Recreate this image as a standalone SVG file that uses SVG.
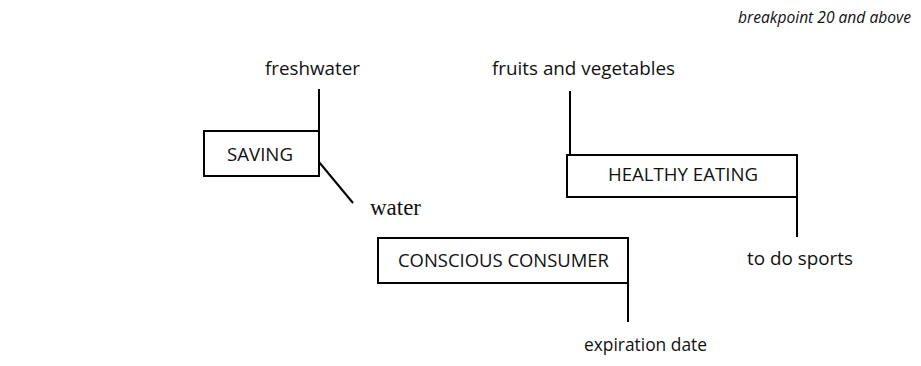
<svg xmlns="http://www.w3.org/2000/svg" width="921" height="366" viewBox="0 0 921 366">
  <style>
    .box { fill: #ffffff; stroke: #000000; stroke-width: 2; }
    .link { stroke: #000000; stroke-width: 2; fill: none; }
    .lbl { font-family: "Open Sans", "Noto Sans", sans-serif; font-size: 18.5px; fill: #111111; }
    .ser { font-family: "Liberation Serif", serif; font-size: 23px; fill: #111111; }
    .note { font-family: "Open Sans", "Noto Sans", sans-serif; font-size: 16px; font-style: italic; fill: #111111; }
  </style>
  <rect width="921" height="366" fill="#ffffff"/>

  <text class="note" x="911" y="23" text-anchor="end" textLength="173" lengthAdjust="spacingAndGlyphs">breakpoint 20 and above</text>

  <g id="connectors">
    <line class="link" x1="319" y1="89" x2="319" y2="138"/>
    <line class="link" x1="319" y1="162" x2="353" y2="203"/>
    <line class="link" x1="570" y1="91" x2="570" y2="155"/>
    <line class="link" x1="797" y1="196" x2="797" y2="237"/>
    <line class="link" x1="628" y1="283" x2="628" y2="322"/>
  </g>

  <g id="saving">
    <rect class="box" x="204" y="131" width="115" height="45"/>
    <text class="lbl" x="227" y="161" textLength="66" lengthAdjust="spacingAndGlyphs">SAVING</text>
  </g>

  <g id="healthy-eating">
    <rect class="box" x="567" y="155" width="230" height="42"/>
    <text class="lbl" x="608" y="181" textLength="150" lengthAdjust="spacingAndGlyphs">HEALTHY EATING</text>
  </g>

  <g id="conscious-consumer">
    <rect class="box" x="378" y="238" width="250" height="45"/>
    <text class="lbl" x="398" y="267" textLength="211" lengthAdjust="spacingAndGlyphs">CONSCIOUS CONSUMER</text>
  </g>

  <g id="freshwater">
    <text class="lbl" x="265" y="75" textLength="95" lengthAdjust="spacingAndGlyphs">freshwater</text>
  </g>

  <g id="water">
    <text class="ser" x="370" y="215" textLength="51" lengthAdjust="spacingAndGlyphs">water</text>
  </g>

  <g id="fruits-and-vegetables">
    <text class="lbl" x="492" y="75" textLength="183" lengthAdjust="spacingAndGlyphs">fruits and vegetables</text>
  </g>

  <g id="to-do-sports">
    <text class="lbl" x="747" y="265" textLength="106" lengthAdjust="spacingAndGlyphs">to do sports</text>
  </g>

  <g id="expiration-date">
    <text class="lbl" x="584" y="351" textLength="123" lengthAdjust="spacingAndGlyphs">expiration date</text>
  </g>
</svg>
